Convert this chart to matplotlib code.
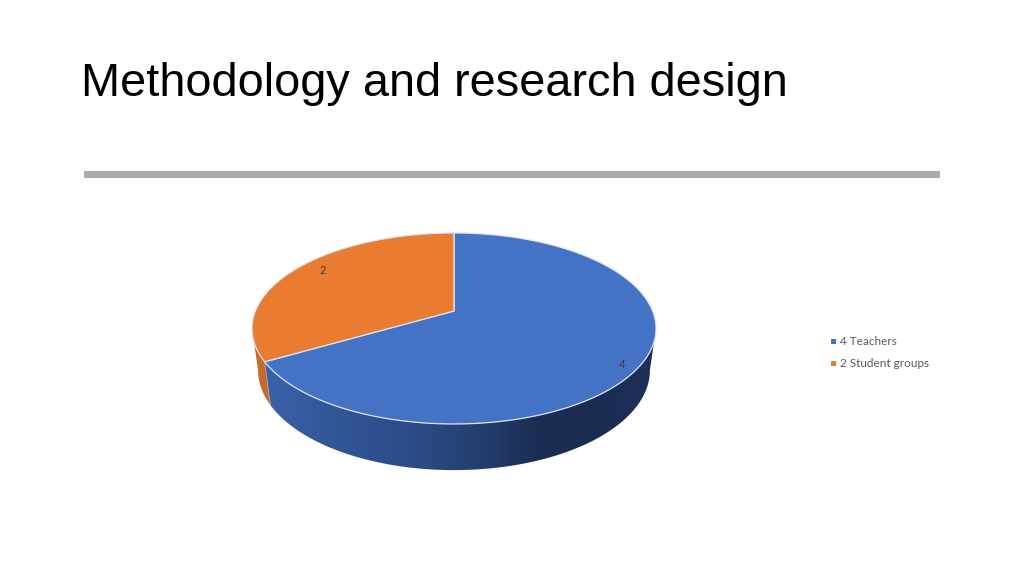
import numpy as np
import matplotlib
matplotlib.use("Agg")
import matplotlib.pyplot as plt
from matplotlib.colors import LinearSegmentedColormap
from matplotlib.patches import Polygon, Rectangle

title = "Methodology and research design"
labels = ["Teachers", "Student groups"]
values = [4, 2]
colors = ["#4472C4", "#E97C30"]

# pie position on the slide, in pixels
cx = 454
top_y0, bot_y0 = 311, 352
top_a, top_b = 198.6, 92.3
bot_a, bot_b = 192.6, 96.5
persp = 0.183


def rim(theta, y0, a, b, r=1.0):
    # theta in degrees clockwise from 12 o'clock, flat disc seen in perspective
    t = np.radians(theta)
    d = 1 + persp * r * np.cos(t)
    return cx + a * r * np.sin(t) / d, y0 - b * r * np.cos(t) / d


def side_poly(t0, t1):
    th = np.linspace(t0, t1, 120)
    x1, y1 = rim(th, top_y0, top_a, top_b)
    x2, y2 = rim(th[::-1], bot_y0, bot_a, bot_b)
    return np.column_stack([np.r_[x1, x2], np.r_[y1, y2]])


fig = plt.figure(figsize=(10.24, 5.76), dpi=100)
ax = fig.add_axes([0, 0, 1, 1])

ax.text(81, 96, title, fontsize=33.75, family="Liberation Sans", color="black", va="baseline")
ax.add_patch(Rectangle((84, 171), 856, 7, color="#ABABAB", lw=0))

# angles of the slices, first one starts at the top and goes clockwise
angles = np.cumsum([0] + values) / sum(values) * 360
left_edge = 360 - np.degrees(np.arccos(-persp))
right_edge = np.degrees(np.arccos(-persp))

# side of the blue slice has a dark gradient
side_cmap = LinearSegmentedColormap.from_list(
    "side", ["#3A62AA", "#34589A", "#2F5090", "#2A4880", "#233C6C", "#1B2C52", "#1B2C52", "#1D3059"])
blue_side = Polygon(side_poly(right_edge, angles[1]), closed=True, lw=0, transform=ax.transData)
ax.add_patch(blue_side)
blue_side.set_visible(False)
img = ax.imshow(np.linspace(0, 1, 256).reshape(1, -1), cmap=side_cmap, aspect="auto",
                extent=(265, 655, 480, 300), zorder=2)
img.set_clip_path(Polygon(side_poly(right_edge, angles[1]), transform=ax.transData))

ax.add_patch(Polygon(side_poly(angles[1], left_edge), closed=True, color="#C86A2B", lw=0, zorder=2))

# top of the pie
for i in range(len(values)):
    th = np.linspace(angles[i], angles[i + 1], 200)
    x, y = rim(th, top_y0, top_a, top_b)
    pts = np.column_stack([np.r_[cx, x], np.r_[top_y0, y]])
    ax.add_patch(Polygon(pts, closed=True, facecolor=colors[i], edgecolor="#DCE4F2", lw=0.9, zorder=3))

# seam on the side
sx, sy = rim(angles[1], top_y0, top_a, top_b)
bx, by = rim(angles[1], bot_y0, bot_a, bot_b)
ax.plot([sx, bx], [sy, by], color="#9DB0D0", lw=0.5, zorder=2.5)

ax.text(323, 270, str(values[1]), fontsize=8, family="Lato", color="#404040", ha="center", va="center", zorder=4)
ax.text(622, 364, str(values[0]), fontsize=8, family="Lato", color="#404040", ha="center", va="center", zorder=4)

# legend
for i, yy in enumerate([341, 363]):
    ax.add_patch(Rectangle((830.5, yy - 2.5), 5, 5, color=colors[i], lw=0))
    ax.text(840, yy + 0.5, f"{values[i]} {labels[i]}", fontsize=8.5, family="Lato", color="#595959", va="center")

ax.set_xlim(0, 1024)
ax.set_ylim(576, 0)
ax.axis("off")
fig.savefig("out.png", dpi=100, facecolor="white")
